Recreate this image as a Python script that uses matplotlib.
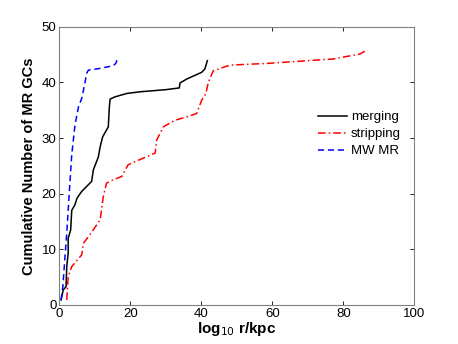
import matplotlib
matplotlib.use("Agg")
import matplotlib.pyplot as plt

# merging
merg_x = [0.5, 1.1, 1.9, 2.1, 2.5, 2.5, 3.2, 3.5, 4.4, 5.0, 6.3, 7.7, 9.1, 9.6, 11.0, 11.5,
          12.2, 13.8, 14.1, 14.3, 15.7, 19.0, 22.7, 30.2, 33.8, 34.0, 35.9, 40.1, 41.0, 41.7]
merg_y = [0.9, 2.7, 3.3, 6.9, 9.3, 12.0, 13.5, 17.0, 18.0, 19.2, 20.4, 21.3, 22.2, 24.3, 26.6, 28.4,
          30.2, 32.0, 35.6, 37.0, 37.4, 38.0, 38.3, 38.7, 39.0, 39.9, 40.6, 41.8, 42.4, 43.9]

# stripping
strip_x = [2.1, 2.5, 3.5, 6.3, 6.8, 8.6, 11.5, 12.4, 13.3, 15.2, 17.6, 19.4, 23.7, 27.0, 27.4,
           29.3, 32.6, 35.9, 38.7, 40.1, 41.3, 42.0, 43.4, 48.1, 58.4, 67.8, 77.2, 84.7, 86.6]
strip_y = [0.9, 5.1, 6.9, 9.0, 11.1, 12.6, 15.3, 19.5, 21.9, 22.5, 23.1, 25.2, 26.4, 27.3, 29.6,
           32.0, 33.2, 33.8, 34.4, 36.8, 38.0, 40.1, 42.1, 43.1, 43.4, 43.8, 44.2, 45.1, 45.8]

# MW MR
mw_x = [0.5, 1.0, 1.6, 2.1, 2.8, 3.5, 4.4, 5.4, 6.3, 7.2, 7.7, 8.2, 11.5, 15.2, 15.9, 16.6]
mw_y = [0.9, 3.3, 8.7, 12.9, 20.1, 27.0, 32.3, 35.6, 37.1, 39.8, 41.6, 42.2, 42.5, 43.0, 43.4, 44.6]

plt.rcParams['font.family'] = ['Liberation Sans', 'DejaVu Sans']

fig = plt.figure(figsize=(4.58, 3.44), dpi=100)
ax = fig.add_axes([0.1295, 0.1134, 0.7751, 0.809])

ax.plot(merg_x, merg_y, color='black', linestyle='-', linewidth=1.1, label='merging')
ax.plot(strip_x, strip_y, color='red', linestyle=(0, (5, 2, 1, 2)), linewidth=1.1, label='stripping')
ax.plot(mw_x, mw_y, color='blue', linestyle=(0, (4, 2.5)), linewidth=1.1, label='MW MR')

ax.set_xlim(0, 100)
ax.set_ylim(0, 50)
ax.set_xticks([0, 20, 40, 60, 80, 100])
ax.set_yticks([0, 10, 20, 30, 40, 50])
ax.tick_params(direction='in', top=True, right=True, labelsize=9.5, length=3, width=0.6,
               pad=2, colors='black')
for s in ax.spines.values():
    s.set_color('#808080')
    s.set_linewidth(0.8)

ax.set_xlabel('log$_{10}$ r/kpc', fontsize=11, fontweight='bold', labelpad=0)
ax.set_ylabel('Cumulative Number of MR GCs', fontsize=10.5, fontweight='bold', labelpad=4)

leg = ax.legend(loc='upper left', bbox_to_anchor=(0.71, 0.72), frameon=False, fontsize=9.5,
                handlelength=2.2, handletextpad=0.3, labelspacing=0.35, borderpad=0)

fig.savefig('out.png', dpi=100)
